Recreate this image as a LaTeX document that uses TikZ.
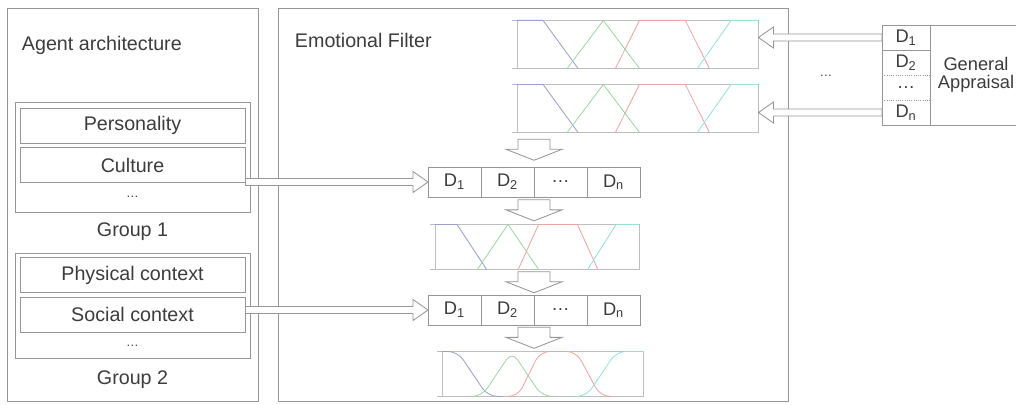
\documentclass[tikz,border=0pt]{standalone}
\usepackage{fontspec}
\setmainfont{Liberation Sans}
\usetikzlibrary{positioning,arrows.meta,calc}
\definecolor{LineGray}{RGB}{150,150,150}
\definecolor{FrameGray}{RGB}{190,190,190}
\definecolor{TextGray}{RGB}{60,60,60}
\definecolor{MfBlue}{RGB}{155,160,205}
\definecolor{MfGreen}{RGB}{160,215,165}
\definecolor{MfRed}{RGB}{240,165,165}
\definecolor{MfCyan}{RGB}{150,225,215}

% small ticks on the left of a membership plot
\newcommand{\mfticks}{%
  \draw[FrameGray] (0,0) -- ++(-3pt,0) (0,1) -- ++(-3pt,0);}
% membership functions, straight segments
\newcommand{\mfsharp}[3]{%
  \begin{scope}[shift={(#1.south west)}, x=#2, y=#3, line width=0.6pt]
    \mfticks
    \draw[MfBlue] (0,1) -- (0.11,1) -- (0.255,0);
    \draw[MfGreen] (0.21,0) -- (0.36,1) -- (0.51,0);
    \draw[MfRed] (0.41,0) -- (0.51,1) -- (0.70,1) -- (0.80,0);
    \draw[MfCyan] (0.75,0) -- (0.89,1) -- (1,1);
  \end{scope}}
% membership functions, smooth
\newcommand{\mfsmooth}[3]{%
  \begin{scope}[shift={(#1.south west)}, x=#2, y=#3, line width=0.6pt, rounded corners=7pt]
    \mfticks
    \draw[MfBlue] (0,1) -- (0.08,1) -- (0.23,0) -- (0.3,0);
    \draw[MfGreen] (0.14,0) -- (0.2,0) -- (0.35,1) -- (0.5,0) -- (0.56,0);
    \draw[MfRed] (0.32,0) -- (0.38,0) -- (0.49,1) -- (0.67,1) -- (0.79,0) -- (0.85,0);
    \draw[MfCyan] (0.66,0) -- (0.72,0) -- (0.87,1) -- (1,1);
  \end{scope}}
% hollow block arrow pointing down, centred between two points
\newcommand{\flowdown}[2]{%
  \draw[boxline, fill=white] let \p1=($(#1)!0.5!(#2)$) in
    (\x1-11.4pt,\y1+7.5pt) -- (\x1+11.4pt,\y1+7.5pt) -- (\x1+11.4pt,\y1+0.3pt)
    -- (\x1+19.9pt,\y1+0.3pt) -- (\x1,\y1-7.5pt) -- (\x1-19.9pt,\y1+0.3pt)
    -- (\x1-11.4pt,\y1+0.3pt) -- cycle;}
% hollow thin arrow from #1 to the tip #2
\newcommand{\feedarrow}[2]{%
  \draw[boxline, fill=white] let \p1=(#1), \p2=(#2), \p3=($(\p2)!10.7pt!(\p1)$) in
    ($(\p1)!2.5pt!90:(\p2)$) -- ($(\p3)!2.5pt!-90:(\p1)$) -- ($(\p3)!7.5pt!-90:(\p1)$)
    -- (\p2) -- ($(\p3)!7.5pt!90:(\p1)$) -- ($(\p3)!2.5pt!90:(\p1)$)
    -- ($(\p1)!2.5pt!-90:(\p2)$) -- cycle;}

\begin{document}
\begin{tikzpicture}[x=0.025cm, y=-0.025cm, node distance=0pt,
  every node/.style={font=\fontsize{14}{16}\selectfont, text=TextGray, align=center},
  boxline/.style={draw=LineGray, line width=0.6pt},
  item/.style={boxline, minimum width=5.625cm, minimum height=0.875cm, inner sep=0},
  cell/.style={boxline, minimum width=1.325cm, minimum height=0.75cm, inner sep=0, outer sep=0,
    font=\fontsize{13}{15}\selectfont},
  slot/.style={minimum width=1.2cm, minimum height=0.625cm, inner sep=0, outer sep=0,
    font=\fontsize{13}{15}\selectfont},
  mf/.style={draw=FrameGray, line width=0.6pt, inner sep=0},
  gapdots/.style={font=\fontsize{9}{10}\selectfont}]
  \clip (0,0) rectangle (1016,404);

  % agent architecture
  \draw[boxline] (7,8) rectangle (258,401);
  \node[anchor=west] (archtitle) at (17,45) {Agent architecture};
  \node[boxline, minimum width=5.875cm, minimum height=2.75cm, inner sep=0] (group1) at (132.5,157) {};
  \node[item] (personality) at (132.5,125.5) {Personality};
  \node[item, below=0.1cm of personality] (culture) {Culture};
  \node[gapdots] (dots1) at (132.5,197) {\dots};
  \node (group1label) at (132.5,232) {Group 1};
  \node[boxline, minimum width=5.875cm, minimum height=2.625cm, inner sep=0] (group2) at (132.5,305.5) {};
  \node[item] (physical) at (132.5,275) {Physical context};
  \node[item, below=0.1cm of physical] (social) {Social context};
  \node[gapdots] (dots2) at (132.5,346) {\dots};
  \node (group2label) at (132.5,380) {Group 2};

  % emotional filter
  \draw[boxline] (278,8) rectangle (788,401);
  \node[anchor=west] (filtertitle) at (290,40) {Emotional Filter};
  \node[mf, minimum width=6.025cm, minimum height=1.2cm] (mf1) at (637.5,44) {};
  \node[mf, minimum width=6.025cm, minimum height=1.2cm] (mf2) at (637.5,108) {};
  \mfsharp{mf1}{6.025cm}{1.2cm}
  \mfsharp{mf2}{6.025cm}{1.2cm}

  \node[cell] (r1a) at (454.5,182) {D\textsubscript{1}};
  \node[cell, right=of r1a] (r1b) {D\textsubscript{2}};
  \node[cell, right=of r1b] (r1c) {\dots};
  \node[cell, right=of r1c] (r1d) {D\textsubscript{n}};

  \node[mf, minimum width=5.1cm, minimum height=1.125cm] (mf3) at (537,246.5) {};
  \mfsharp{mf3}{5.1cm}{1.125cm}

  \node[cell] (r2a) at (454.5,310) {D\textsubscript{1}};
  \node[cell, right=of r2a] (r2b) {D\textsubscript{2}};
  \node[cell, right=of r2b] (r2c) {\dots};
  \node[cell, right=of r2c] (r2d) {D\textsubscript{n}};

  \node[mf, minimum width=5.025cm, minimum height=1.125cm] (mf4) at (542.5,373.5) {};
  \mfsmooth{mf4}{5.025cm}{1.125cm}

  \flowdown{mf2.south -| r1b.east}{r1b.north east}
  \flowdown{r1b.south east}{mf3.north -| r1b.east}
  \flowdown{mf3.south -| r1b.east}{r2b.north east}
  \flowdown{r2b.south east}{mf4.north -| r2b.east}

  \feedarrow{r1a.west -| culture.east}{r1a.west}
  \feedarrow{r2a.west -| social.east}{r2a.west}

  % general appraisal
  \node[gapdots] (dots3) at (826,76) {\dots};
  \node[boxline, minimum width=1.2cm, minimum height=2.5cm, inner sep=0, outer sep=0] (dcol) at (906,75) {};
  \node[slot] (g1) at (906,37.5) {D\textsubscript{1}};
  \node[slot] (g2) at (906,62.5) {D\textsubscript{2}};
  \node[slot] (g3) at (906,87.5) {\dots};
  \node[slot] (g4) at (906,112.5) {D\textsubscript{n}};
  \draw[boxline] (g1.south west) -- (g1.south east);
  \draw[boxline, densely dotted] (g2.south west) -- (g2.south east);
  \draw[boxline, densely dotted] (g3.south west) -- (g3.south east);
  \node[boxline, anchor=west, minimum width=2.3cm, minimum height=2.5cm, inner sep=0, outer sep=0,
    font=\fontsize{13}{13}\selectfont] (appraisal) at (dcol.east) {General\\Appraisal};

  \feedarrow{g1.west}{g1.west -| mf1.east}
  \feedarrow{g4.west}{g4.west -| mf2.east}
\end{tikzpicture}
\end{document}
